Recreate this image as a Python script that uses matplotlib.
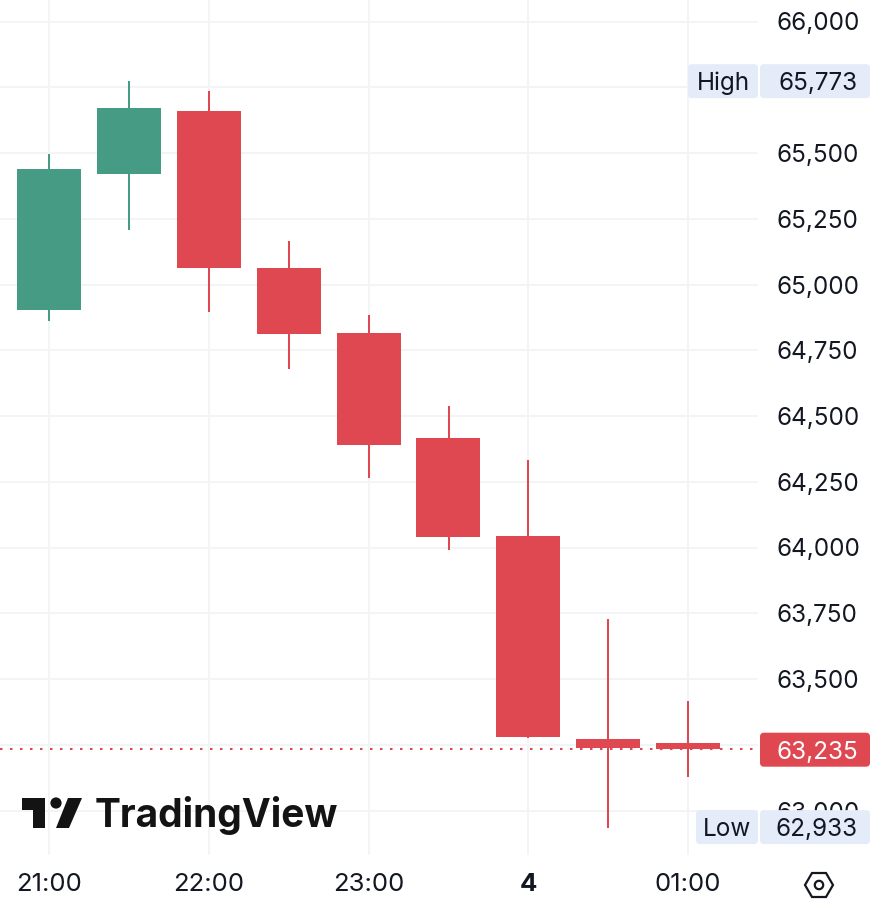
"""TradingView style 30 min candlestick chart, recreated with matplotlib."""
import matplotlib
matplotlib.use("Agg")
import matplotlib.pyplot as plt
from matplotlib.patches import Circle, FancyBboxPatch, Polygon

W, H = 878, 908
PLOT_W, PLOT_H = 758, 855

hours = [21.0, 21.5, 22.0, 22.5, 23.0, 23.5, 24.0, 24.5, 25.0]
opens = [64902, 65419, 65658, 65062, 64815, 64416, 64043, 63272, 63257]
highs = [65495, 65773, 65734, 65164, 64883, 64537, 64332, 63728, 63416]
lows = [64860, 65206, 64894, 64678, 64264, 63990, 63275, 62933, 63128]
closes = [65438, 65673, 65062, 64811, 64389, 64040, 63280, 63238, 63235]

price_ticks = list(range(63000, 66001, 250))
hidden_labels = [65750, 63250]   # these sit under the badges
time_ticks = [21, 22, 23, 24, 25]
time_labels = ["21:00", "22:00", "23:00", "4", "01:00"]
high_price, low_price, last_price = 65773, 62933, 63235

GREEN = "#459B83"
RED = "#E04851"
GRID = "#F3F4F6"
TEXT = "#131722"
BADGE = "#E3ECF8"

plt.rcParams["font.family"] = ["Inter", "DejaVu Sans"]

# pixel calibration: 66,000 sits at y=21.5, 63,000 at y=810.5
TOP_PX = 21.5
PX_PER_UNIT = (810.5 - TOP_PX) / 3000
PX_PER_HOUR = 159.8


def y_px(v):
    return TOP_PX + (66000 - v) * PX_PER_UNIT


fig = plt.figure(figsize=(W / 100, H / 100), dpi=100)
ax = fig.add_axes([0, 1 - PLOT_H / H, PLOT_W / W, PLOT_H / H])
ax.set_xlim(21 - 49 / PX_PER_HOUR, 21 + (PLOT_W - 49) / PX_PER_HOUR)
ax.set_ylim(66000 - (PLOT_H - TOP_PX) / PX_PER_UNIT, 66000 + TOP_PX / PX_PER_UNIT)
for s in ax.spines.values():
    s.set_visible(False)
ax.set_axisbelow(True)
ax.grid(True, color=GRID, lw=1.4)
ax.set_yticks(price_ticks)
ax.set_yticklabels(["" if p in hidden_labels else f"{p:,}" for p in price_ticks])
ax.yaxis.tick_right()
ax.set_xticks(time_ticks)
ax.set_xticklabels(time_labels)
ax.tick_params(axis="y", length=0, pad=13.5, labelsize=17.5, labelcolor=TEXT)
ax.tick_params(axis="x", length=0, pad=13, labelsize=18.5, labelcolor=TEXT)
ax.get_xticklabels()[3].set_fontweight("bold")

ax.axhline(last_price, color=RED, lw=1.5, ls=(0, (1.2, 3.6)), zorder=1.5)

for t, o, h, l, c in zip(hours, opens, highs, lows, closes):
    col = GREEN if c >= o else RED
    ax.vlines(t, l, h, color=col, lw=1.45, zorder=2)
    ax.bar(t, abs(c - o), bottom=min(o, c), width=64 / PX_PER_HOUR,
           color=col, lw=0, zorder=3)

# overlay in pixel coordinates for badges, logo and settings icon
ov = fig.add_axes([0, 0, 1, 1], facecolor="none")
ov.set_xlim(0, W)
ov.set_ylim(H, 0)
ov.axis("off")


def badge(x0, x1, yc, text, fc, tc, tx, ha):
    ov.add_patch(FancyBboxPatch((x0 + 3, yc - 14), x1 - x0 - 6, 28,
                                boxstyle="round,pad=3,rounding_size=4",
                                fc=fc, ec="none"))
    ov.text(tx, yc, text, color=tc, fontsize=17.5, ha=ha, va="center_baseline")


y = y_px(high_price)
badge(688, 758, y, "High", BADGE, TEXT, 723, "center")
badge(760, 870, y, f"{high_price:,}", BADGE, TEXT, 858, "right")
y = y_px(low_price) - 1
badge(696, 758, y, "Low", BADGE, TEXT, 727, "center")
badge(760, 870, y, f"{low_price:,}", BADGE, TEXT, 858, "right")
badge(760, 870, y_px(last_price) + 1, f"{last_price:,}", RED, "white", 858, "right")

# TradingView logo
LOGO = "#131313"
ov.add_patch(Polygon([(22, 798), (45, 798), (45, 828), (33, 828), (33, 810), (22, 810)],
                     fc=LOGO, ec="none"))
ov.add_patch(Circle((56, 803), 5.6, fc=LOGO, ec="none"))
ov.add_patch(Polygon([(68, 798), (82, 798), (69, 828), (56, 828)], fc=LOGO, ec="none"))
ov.text(95, 827, "TradingView", fontsize=28, fontweight="bold", color=LOGO,
        ha="left", va="baseline")

# settings icon
ov.add_patch(Polygon([(805, 885), (812, 873), (826, 873), (833, 885), (826, 897), (812, 897)],
                     fc="white", ec=TEXT, lw=1.6))
ov.add_patch(Circle((819, 885), 4.2, fc="white", ec=TEXT, lw=1.6))

fig.savefig("out.png", dpi=100)
plt.close(fig)
